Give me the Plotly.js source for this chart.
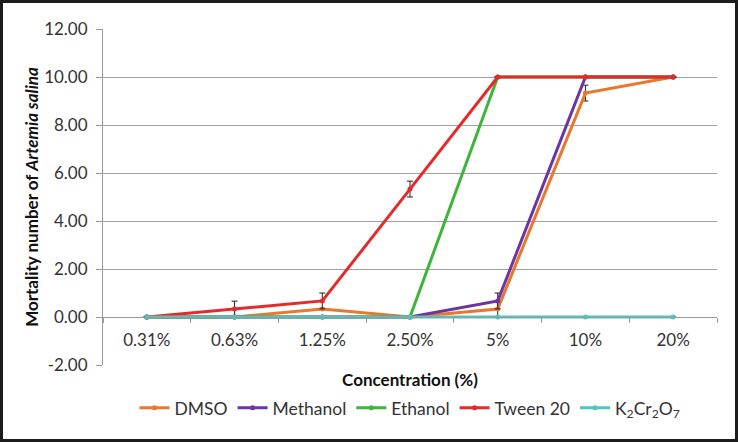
<!DOCTYPE html>
<html>
<head>
<meta charset="utf-8">
<script src="https://cdn.plot.ly/plotly-3.0.1.min.js"></script>
<style>
  html, body { margin: 0; padding: 0; background: #1c1c1c; }
  #chart { position: absolute; left: 3px; top: 3px; width: 732px; height: 436px; background: #fff; }
</style>
</head>
<body>
<div id="chart"></div>
<script>
const concentrations = ['0.31%', '0.63%', '1.25%', '2.50%', '5%', '10%', '20%'];

const dmso     = [0, 0, 0.33, 0, 0.33, 9.33, 10];
const methanol = [0, 0, 0, 0, 0.67, 10, 10];
const ethanol  = [0, 0, 0, 0, 10, 10, 10];
const tween20  = [0, 0.33, 0.67, 5.33, 10, 10, 10];
const k2cr2o7  = [0, 0, 0, 0, 0, 0, 0];

const dmsoErr     = [0, 0, 0, 0, 0.33, 0.33, 0];
const methanolErr = [0, 0, 0, 0, 0.33, 0, 0];
const ethanolErr  = [0, 0, 0, 0, 0, 0, 0];
const tween20Err  = [0, 0.33, 0.33, 0.33, 0, 0, 0];
const k2cr2o7Err  = [0, 0, 0, 0, 0, 0, 0];

const yTicks = [-2, 0, 2, 4, 6, 8, 10, 12];
const yTickText = yTicks.map(v => v.toFixed(2)); // hyphen minus like the original

const font = 'Lato, "Open Sans", sans-serif';

function series(name, y, err, color) {
  return {
    type: 'scatter', mode: 'lines+markers', name, x: concentrations, y,
    line: {color, width: 3},
    marker: {color, size: 5},
    error_y: {type: 'data', array: err, visible: true, color: '#222', thickness: 1, width: 3}
  };
}

const traces = [
  series('DMSO', dmso, dmsoErr, '#E8782C'),
  series('Methanol', methanol, methanolErr, '#6B35A3'),
  series('Ethanol', ethanol, ethanolErr, '#3DB53D'),
  series('Tween 20', tween20, tween20Err, '#E42A2A'),
  series('K<sub>2</sub>Cr<sub>2</sub>O<sub>7</sub>', k2cr2o7, k2cr2o7Err, '#4EC7C2')
];

const layout = {
  width: 732, height: 436,
  margin: {l: 100, r: 18, t: 26, b: 74},
  paper_bgcolor: '#fff', plot_bgcolor: '#fff',
  font: {family: font, size: 17, color: '#333'},
  showlegend: true,
  legend: {orientation: 'h', x: 0.5, xanchor: 'center', y: -0.074, yanchor: 'top',
           font: {family: font, size: 17.5, color: '#333'}, itemwidth: 30, tracegroupgap: 0},
  xaxis: {
    type: 'category', range: [-0.5, 6.5],
    anchor: 'free', position: 2 / 14,
    showline: true, linecolor: '#999', linewidth: 1,
    ticks: 'outside', tickson: 'boundaries', ticklen: 5, tickcolor: '#999',
    ticklabelstandoff: 8,
    showgrid: false, zeroline: false,
    tickfont: {family: font, size: 17, color: '#333'},
    title: {text: '<b>Concentration (%)</b>', font: {family: font, size: 17, color: '#111'}, standoff: 24}
  },
  yaxis: {
    range: [-2, 12], tickvals: yTicks, ticktext: yTickText,
    showline: true, linecolor: '#999', linewidth: 1,
    ticks: 'outside', ticklen: 6, tickcolor: '#999',
    ticklabelstandoff: 5,
    showgrid: true, gridcolor: '#a0a0a0', gridwidth: 1, zeroline: false,
    tickfont: {family: font, size: 17, color: '#333'},
    title: {text: '<b>Mortality number of <i>Artemia salina</i></b>', font: {family: font, size: 17, color: '#111'}, standoff: 1}
  }
};

Plotly.newPlot('chart', traces, layout, {displayModeBar: false, staticPlot: true});
</script>
</body>
</html>
